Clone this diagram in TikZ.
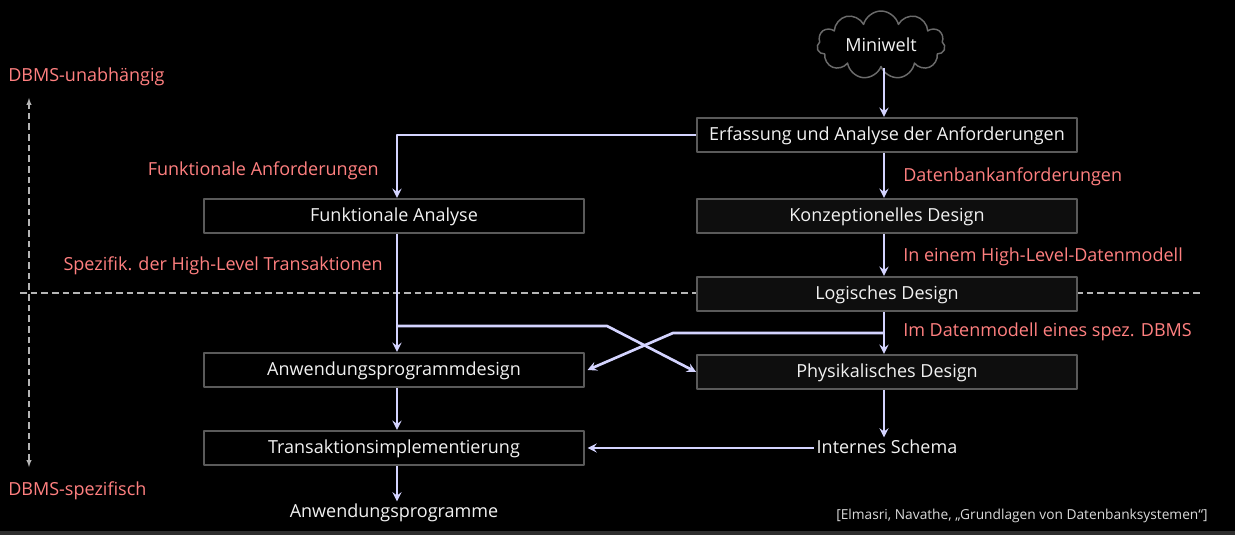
\documentclass[tikz,border=0pt]{standalone}
\usepackage{fontspec}
\setmainfont{Open Sans}
\usetikzlibrary{shapes.symbols}
\definecolor{pfeil}{HTML}{D4D4FF}
\definecolor{rahmen}{HTML}{5A5A5A}
\definecolor{hell}{HTML}{F2F2F2}
\definecolor{rot}{HTML}{FF8080}
\definecolor{box}{HTML}{0E0E0E}

\begin{document}
\begin{tikzpicture}[x=0.75pt,y=-0.75pt,line join=round,>=stealth,
	font=\fontsize{13.5}{16}\selectfont,
	kasten/.style={draw=rahmen,line width=1.3pt,fill=#1,text=hell,minimum width=285pt,minimum height=26pt,inner sep=0pt,text height=9.5pt,text depth=2pt},
	kasten/.default=black,
	pf/.style={->,draw=pfeil,line width=2pt},
	rottext/.style={text=rot,inner sep=0pt,yshift=-1.5pt},
	strich/.style={draw=hell!75!black,dashed,dash pattern=on 5pt off 3pt,line width=0.8pt}]
	% Hintergrund
	\fill[black] (0,0) rectangle (1235,535);
	\fill[black!82] (0,531) rectangle (1235,535);
	\useasboundingbox (0,0) rectangle (1235,535);
	% gestrichelte Linien
	\coordinate (L1) at (20,293);
	\coordinate (L2) at (1200,293);
	\draw[strich] (L1)--(L2);
	\coordinate (U) at (29,98);
	\coordinate (S) at (29,467);
	\draw[strich,<->,>=latex] (S)--(U);
	\node[rottext,anchor=west] (unab) at (8,75) {DBMS-unabhängig};
	\node[rottext,anchor=west] (spez) at (8,489) {DBMS-spezifisch};
	% rechte Spalte
	\node[cloud,cloud puffs=11,aspect=2.1,draw=rahmen!90,line width=1.1pt,fill=black,text=hell,minimum width=96pt,minimum height=50pt,inner sep=0pt] (welt) at (881,45) {Miniwelt};
	\node[kasten] (erf) at (887,135) {Erfassung und Analyse der Anforderungen};
	\node[kasten=box] (konz) at (887,216) {Konzeptionelles Design};
	\node[kasten=box] (log) at (887,294) {Logisches Design};
	\node[kasten=box] (phys) at (887,372) {Physikalisches Design};
	\node[text=hell,inner sep=2pt,text height=9.5pt,text depth=2pt] (intern) at (887,448) {Internes Schema};
	% linke Spalte
	\node[kasten] (funk) at (394,216) {Funktionale Analyse};
	\node[kasten] (anw) at (394,370) {Anwendungsprogrammdesign};
	\node[kasten] (trans) at (394,448) {Transaktionsimplementierung};
	\node[text=hell,inner sep=2pt,text height=9.5pt,text depth=2pt] (prog) at (394,512) {Anwendungsprogramme};
	% Beschriftungen
	\node[rottext,anchor=east] (funkanf) at (379,169) {Funktionale Anforderungen};
	\node[rottext,anchor=east] (hltrans) at (383,264) {Spezifik. der High-Level Transaktionen};
	\node[rottext,anchor=west] (dbanf) at (903,175) {Datenbankanforderungen};
	\node[rottext,anchor=west] (hlmod) at (903,255) {In einem High-Level-Datenmodell};
	\node[rottext,anchor=west] (spmod) at (903,330) {Im Datenmodell eines spez. DBMS};
	\node[font=\fontsize{10.3}{12}\selectfont,text=hell!90!black,inner sep=0pt] (quelle) at (1022,516) {[Elmasri, Navathe, „Grundlagen von Datenbanksystemen“]};
	% Pfeile
	\coordinate (a1) at (397,135);
	\coordinate (a2) at (397,326);
	\coordinate (a3) at (607,326);
	\coordinate (b1) at (884,333);
	\coordinate (b2) at (673,333);
	\draw[pf] (welt.south -| 884,0)--(erf.north -| 884,0);
	\draw[pf] (erf.west)--(a1)--(funk.north -| a1);
	\draw[pf] (erf.south -| 884,0)--(konz.north -| 884,0);
	\draw[pf] (konz.south -| 884,0)--(log.north -| 884,0);
	\draw[pf] (log.south -| 884,0)--(phys.north -| 884,0);
	\draw[pf] (funk.south -| a1)--(anw.north -| a1);
	\draw[pf] (a2)--(a3)--(phys.west);
	\draw[pf] (b1)--(b2)--([xshift=2pt]anw.east);
	\draw[pf] (phys.south -| 884,0)--(intern.north -| 884,0);
	\draw[pf] (intern.west)--([xshift=2pt]trans.east |- intern.west);
	\draw[pf] (anw.south -| a1)--(trans.north -| a1);
	\draw[pf] (trans.south -| a1)--(prog.north -| a1);
\end{tikzpicture}
\end{document}
